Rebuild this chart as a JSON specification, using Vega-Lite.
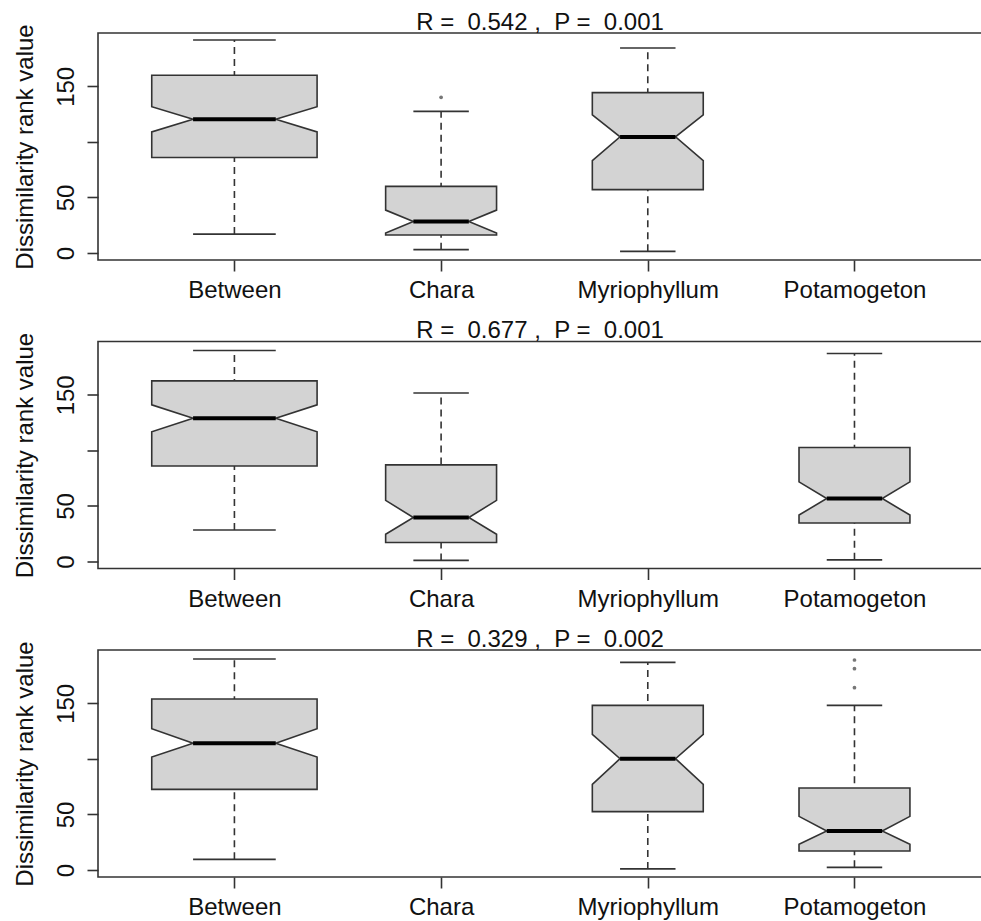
{
  "$schema": "https://vega.github.io/schema/vega-lite/v6.json",
  "padding": {"left": 12, "top": 10, "right": 0, "bottom": 0},
  "background": "white",
  "bounds": "flush",
  "spacing": 81.5,
  "data": {
    "values": [
      {"panel": 1, "group": "Between", "n": 100, "lo": 17, "q1": 86, "nlo": 109, "med": 120.3, "nhi": 131.7, "q3": 160, "hi": 191.7},
      {"panel": 1, "group": "Chara", "n": 45, "lo": 3, "q1": 16.2, "nlo": 18, "med": 28.3, "nhi": 38.6, "q3": 60, "hi": 127.5},
      {"panel": 1, "group": "Myriophyllum", "n": 45, "lo": 1.5, "q1": 57, "nlo": 83.2, "med": 104.5, "nhi": 124.3, "q3": 144.3, "hi": 184.5},
      {"panel": 1, "group": "Chara", "out": 140.1},
      {"panel": 2, "group": "Between", "n": 100, "lo": 28.3, "q1": 85.9, "nlo": 116.8, "med": 128.9, "nhi": 141, "q3": 162.6, "hi": 189.9},
      {"panel": 2, "group": "Chara", "n": 45, "lo": 1, "q1": 17.1, "nlo": 24.5, "med": 39.6, "nhi": 55, "q3": 87, "hi": 151.6},
      {"panel": 2, "group": "Potamogeton", "n": 45, "lo": 1.5, "q1": 34.6, "nlo": 41.8, "med": 56.7, "nhi": 71.7, "q3": 102.6, "hi": 187.2},
      {"panel": 3, "group": "Between", "n": 100, "lo": 9.6, "q1": 72.6, "nlo": 101.7, "med": 114, "nhi": 127.2, "q3": 153.9, "hi": 189.9},
      {"panel": 3, "group": "Myriophyllum", "n": 45, "lo": 1, "q1": 52.5, "nlo": 77.1, "med": 100.2, "nhi": 122.1, "q3": 148.2, "hi": 186.9},
      {"panel": 3, "group": "Potamogeton", "n": 45, "lo": 2.4, "q1": 17.1, "nlo": 23.1, "med": 35.1, "nhi": 48.3, "q3": 73.8, "hi": 148.2},
      {"panel": 3, "group": "Potamogeton", "out": 164.1},
      {"panel": 3, "group": "Potamogeton", "out": 181.2},
      {"panel": 3, "group": "Potamogeton", "out": 189}
    ]
  },
  "transform": [
    {"calculate": "indexof(['Between','Chara','Myriophyllum','Potamogeton'], datum.group) + 1", "as": "pos"},
    {"calculate": "0.4 * sqrt(datum.n / 100)", "as": "hw"},
    {"calculate": "datum.pos - datum.hw / 2", "as": "xl2"},
    {"calculate": "datum.pos + datum.hw / 2", "as": "xr2"}
  ],
  "vconcat": [
    {
      "title": {"text": "R = \u00a00.542 , \u00a0P = \u00a00.001"},
      "width": 884, "height": 227,
      "transform": [{"filter": "datum.panel == 1"}],
      "layer": [
        {"transform": [{"filter": "isValid(datum.med)"}],
         "mark": {"type": "rule", "strokeDash": [7, 5], "color": "#333", "strokeWidth": 1.6},
         "encoding": {
           "x": {"field": "pos", "type": "quantitative", "title": null, "scale": {"domain": [0.34, 4.617], "nice": false, "zero": false}, "axis": {"values": [1, 2, 3, 4], "labelExpr": "['','Between','Chara','Myriophyllum','Potamogeton'][datum.value]"}},
           "y": {"field": "lo", "type": "quantitative", "title": "Dissimilarity rank value", "scale": {"domain": [-6.3, 198], "nice": false, "zero": false}, "axis": {"values": [0, 50, 100, 150], "labelExpr": "datum.value == 100 ? '' : datum.label"}},
           "y2": {"field": "hi"}}},
        {"transform": [{"filter": "isValid(datum.med)"}, {"fold": ["q1", "nlo", "med", "nhi", "q3"], "as": ["part", "val"]}, {"calculate": "datum.part == 'med' ? datum.hw / 2 : datum.hw", "as": "w"}, {"calculate": "datum.pos - datum.w", "as": "xl"}, {"calculate": "datum.pos + datum.w", "as": "xr"}],
         "mark": {"type": "area", "orient": "horizontal", "fill": "#d3d3d3", "stroke": "#333", "strokeWidth": 1.6, "interpolate": "linear"},
         "encoding": {
           "y": {"field": "val", "type": "quantitative", "title": "Dissimilarity rank value", "scale": {"domain": [-6.3, 198], "nice": false, "zero": false}, "axis": {"values": [0, 50, 100, 150], "labelExpr": "datum.value == 100 ? '' : datum.label"}},
           "x": {"field": "xl", "type": "quantitative", "title": null, "scale": {"domain": [0.34, 4.617], "nice": false, "zero": false}, "axis": {"values": [1, 2, 3, 4], "labelExpr": "['','Between','Chara','Myriophyllum','Potamogeton'][datum.value]"}},
           "x2": {"field": "xr"},
           "detail": {"field": "group"}}},
        {"transform": [{"filter": "isValid(datum.med)"}],
         "mark": {"type": "rule", "color": "#000", "strokeWidth": 4},
         "encoding": {
           "x": {"field": "xl2", "type": "quantitative", "title": null, "scale": {"domain": [0.34, 4.617], "nice": false, "zero": false}, "axis": {"values": [1, 2, 3, 4], "labelExpr": "['','Between','Chara','Myriophyllum','Potamogeton'][datum.value]"}},
           "x2": {"field": "xr2"},
           "y": {"field": "med", "type": "quantitative", "title": "Dissimilarity rank value", "scale": {"domain": [-6.3, 198], "nice": false, "zero": false}, "axis": {"values": [0, 50, 100, 150], "labelExpr": "datum.value == 100 ? '' : datum.label"}}}},
        {"transform": [{"filter": "isValid(datum.med)"}, {"fold": ["lo", "hi"], "as": ["cap", "cv"]}],
         "mark": {"type": "rule", "color": "#333", "strokeWidth": 1.6},
         "encoding": {
           "x": {"field": "xl2", "type": "quantitative", "title": null, "scale": {"domain": [0.34, 4.617], "nice": false, "zero": false}, "axis": {"values": [1, 2, 3, 4], "labelExpr": "['','Between','Chara','Myriophyllum','Potamogeton'][datum.value]"}},
           "x2": {"field": "xr2"},
           "y": {"field": "cv", "type": "quantitative", "title": "Dissimilarity rank value", "scale": {"domain": [-6.3, 198], "nice": false, "zero": false}, "axis": {"values": [0, 50, 100, 150], "labelExpr": "datum.value == 100 ? '' : datum.label"}}}},
        {"transform": [{"filter": "isValid(datum.out)"}],
         "mark": {"type": "point", "filled": true, "shape": "circle", "size": 14, "color": "#777", "opacity": 1},
         "encoding": {
           "x": {"field": "pos", "type": "quantitative", "title": null, "scale": {"domain": [0.34, 4.617], "nice": false, "zero": false}, "axis": {"values": [1, 2, 3, 4], "labelExpr": "['','Between','Chara','Myriophyllum','Potamogeton'][datum.value]"}},
           "y": {"field": "out", "type": "quantitative", "title": "Dissimilarity rank value", "scale": {"domain": [-6.3, 198], "nice": false, "zero": false}, "axis": {"values": [0, 50, 100, 150], "labelExpr": "datum.value == 100 ? '' : datum.label"}}}}
      ]
    },
    {
      "title": {"text": "R = \u00a00.677 , \u00a0P = \u00a00.001"},
      "width": 884, "height": 227,
      "transform": [{"filter": "datum.panel == 2"}],
      "layer": [
        {"transform": [{"filter": "isValid(datum.med)"}],
         "mark": {"type": "rule", "strokeDash": [7, 5], "color": "#333", "strokeWidth": 1.6},
         "encoding": {
           "x": {"field": "pos", "type": "quantitative", "title": null, "scale": {"domain": [0.34, 4.617], "nice": false, "zero": false}, "axis": {"values": [1, 2, 3, 4], "labelExpr": "['','Between','Chara','Myriophyllum','Potamogeton'][datum.value]"}},
           "y": {"field": "lo", "type": "quantitative", "title": "Dissimilarity rank value", "scale": {"domain": [-6.3, 198], "nice": false, "zero": false}, "axis": {"values": [0, 50, 100, 150], "labelExpr": "datum.value == 100 ? '' : datum.label"}},
           "y2": {"field": "hi"}}},
        {"transform": [{"filter": "isValid(datum.med)"}, {"fold": ["q1", "nlo", "med", "nhi", "q3"], "as": ["part", "val"]}, {"calculate": "datum.part == 'med' ? datum.hw / 2 : datum.hw", "as": "w"}, {"calculate": "datum.pos - datum.w", "as": "xl"}, {"calculate": "datum.pos + datum.w", "as": "xr"}],
         "mark": {"type": "area", "orient": "horizontal", "fill": "#d3d3d3", "stroke": "#333", "strokeWidth": 1.6, "interpolate": "linear"},
         "encoding": {
           "y": {"field": "val", "type": "quantitative", "title": "Dissimilarity rank value", "scale": {"domain": [-6.3, 198], "nice": false, "zero": false}, "axis": {"values": [0, 50, 100, 150], "labelExpr": "datum.value == 100 ? '' : datum.label"}},
           "x": {"field": "xl", "type": "quantitative", "title": null, "scale": {"domain": [0.34, 4.617], "nice": false, "zero": false}, "axis": {"values": [1, 2, 3, 4], "labelExpr": "['','Between','Chara','Myriophyllum','Potamogeton'][datum.value]"}},
           "x2": {"field": "xr"},
           "detail": {"field": "group"}}},
        {"transform": [{"filter": "isValid(datum.med)"}],
         "mark": {"type": "rule", "color": "#000", "strokeWidth": 4},
         "encoding": {
           "x": {"field": "xl2", "type": "quantitative", "title": null, "scale": {"domain": [0.34, 4.617], "nice": false, "zero": false}, "axis": {"values": [1, 2, 3, 4], "labelExpr": "['','Between','Chara','Myriophyllum','Potamogeton'][datum.value]"}},
           "x2": {"field": "xr2"},
           "y": {"field": "med", "type": "quantitative", "title": "Dissimilarity rank value", "scale": {"domain": [-6.3, 198], "nice": false, "zero": false}, "axis": {"values": [0, 50, 100, 150], "labelExpr": "datum.value == 100 ? '' : datum.label"}}}},
        {"transform": [{"filter": "isValid(datum.med)"}, {"fold": ["lo", "hi"], "as": ["cap", "cv"]}],
         "mark": {"type": "rule", "color": "#333", "strokeWidth": 1.6},
         "encoding": {
           "x": {"field": "xl2", "type": "quantitative", "title": null, "scale": {"domain": [0.34, 4.617], "nice": false, "zero": false}, "axis": {"values": [1, 2, 3, 4], "labelExpr": "['','Between','Chara','Myriophyllum','Potamogeton'][datum.value]"}},
           "x2": {"field": "xr2"},
           "y": {"field": "cv", "type": "quantitative", "title": "Dissimilarity rank value", "scale": {"domain": [-6.3, 198], "nice": false, "zero": false}, "axis": {"values": [0, 50, 100, 150], "labelExpr": "datum.value == 100 ? '' : datum.label"}}}}
      ]
    },
    {
      "title": {"text": "R = \u00a00.329 , \u00a0P = \u00a00.002"},
      "width": 884, "height": 227,
      "transform": [{"filter": "datum.panel == 3"}],
      "layer": [
        {"transform": [{"filter": "isValid(datum.med)"}],
         "mark": {"type": "rule", "strokeDash": [7, 5], "color": "#333", "strokeWidth": 1.6},
         "encoding": {
           "x": {"field": "pos", "type": "quantitative", "title": null, "scale": {"domain": [0.34, 4.617], "nice": false, "zero": false}, "axis": {"values": [1, 2, 3, 4], "labelExpr": "['','Between','Chara','Myriophyllum','Potamogeton'][datum.value]"}},
           "y": {"field": "lo", "type": "quantitative", "title": "Dissimilarity rank value", "scale": {"domain": [-6.3, 198], "nice": false, "zero": false}, "axis": {"values": [0, 50, 100, 150], "labelExpr": "datum.value == 100 ? '' : datum.label"}},
           "y2": {"field": "hi"}}},
        {"transform": [{"filter": "isValid(datum.med)"}, {"fold": ["q1", "nlo", "med", "nhi", "q3"], "as": ["part", "val"]}, {"calculate": "datum.part == 'med' ? datum.hw / 2 : datum.hw", "as": "w"}, {"calculate": "datum.pos - datum.w", "as": "xl"}, {"calculate": "datum.pos + datum.w", "as": "xr"}],
         "mark": {"type": "area", "orient": "horizontal", "fill": "#d3d3d3", "stroke": "#333", "strokeWidth": 1.6, "interpolate": "linear"},
         "encoding": {
           "y": {"field": "val", "type": "quantitative", "title": "Dissimilarity rank value", "scale": {"domain": [-6.3, 198], "nice": false, "zero": false}, "axis": {"values": [0, 50, 100, 150], "labelExpr": "datum.value == 100 ? '' : datum.label"}},
           "x": {"field": "xl", "type": "quantitative", "title": null, "scale": {"domain": [0.34, 4.617], "nice": false, "zero": false}, "axis": {"values": [1, 2, 3, 4], "labelExpr": "['','Between','Chara','Myriophyllum','Potamogeton'][datum.value]"}},
           "x2": {"field": "xr"},
           "detail": {"field": "group"}}},
        {"transform": [{"filter": "isValid(datum.med)"}],
         "mark": {"type": "rule", "color": "#000", "strokeWidth": 4},
         "encoding": {
           "x": {"field": "xl2", "type": "quantitative", "title": null, "scale": {"domain": [0.34, 4.617], "nice": false, "zero": false}, "axis": {"values": [1, 2, 3, 4], "labelExpr": "['','Between','Chara','Myriophyllum','Potamogeton'][datum.value]"}},
           "x2": {"field": "xr2"},
           "y": {"field": "med", "type": "quantitative", "title": "Dissimilarity rank value", "scale": {"domain": [-6.3, 198], "nice": false, "zero": false}, "axis": {"values": [0, 50, 100, 150], "labelExpr": "datum.value == 100 ? '' : datum.label"}}}},
        {"transform": [{"filter": "isValid(datum.med)"}, {"fold": ["lo", "hi"], "as": ["cap", "cv"]}],
         "mark": {"type": "rule", "color": "#333", "strokeWidth": 1.6},
         "encoding": {
           "x": {"field": "xl2", "type": "quantitative", "title": null, "scale": {"domain": [0.34, 4.617], "nice": false, "zero": false}, "axis": {"values": [1, 2, 3, 4], "labelExpr": "['','Between','Chara','Myriophyllum','Potamogeton'][datum.value]"}},
           "x2": {"field": "xr2"},
           "y": {"field": "cv", "type": "quantitative", "title": "Dissimilarity rank value", "scale": {"domain": [-6.3, 198], "nice": false, "zero": false}, "axis": {"values": [0, 50, 100, 150], "labelExpr": "datum.value == 100 ? '' : datum.label"}}}},
        {"transform": [{"filter": "isValid(datum.out)"}],
         "mark": {"type": "point", "filled": true, "shape": "circle", "size": 14, "color": "#777", "opacity": 1},
         "encoding": {
           "x": {"field": "pos", "type": "quantitative", "title": null, "scale": {"domain": [0.34, 4.617], "nice": false, "zero": false}, "axis": {"values": [1, 2, 3, 4], "labelExpr": "['','Between','Chara','Myriophyllum','Potamogeton'][datum.value]"}},
           "y": {"field": "out", "type": "quantitative", "title": "Dissimilarity rank value", "scale": {"domain": [-6.3, 198], "nice": false, "zero": false}, "axis": {"values": [0, 50, 100, 150], "labelExpr": "datum.value == 100 ? '' : datum.label"}}}}
      ]
    }
  ],
  "config": {
    "view": {"stroke": "#333", "strokeWidth": 1.6},
    "axis": {"grid": false, "domain": false, "tickColor": "#333", "tickWidth": 1.6, "tickSize": 11, "labelFont": "Liberation Sans", "labelFontSize": 24, "labelColor": "#111", "titleFont": "Liberation Sans", "titleFontSize": 24, "titleFontWeight": "normal", "titleColor": "#111", "labelOverlap": false},
    "axisX": {"labelPadding": 26.5, "labelAngle": 0, "labelBaseline": "alphabetic", "labelAlign": "center"},
    "axisY": {"labelAngle": -90, "labelAlign": "center", "labelBaseline": "alphabetic", "labelPadding": 14, "titleAngle": -90, "titleBaseline": "alphabetic", "titleAlign": "center", "titleX": -66, "titleY": 113.5},
    "title": {"font": "Liberation Sans", "fontSize": 24, "fontWeight": "normal", "color": "#111", "offset": -11, "baseline": "alphabetic", "frame": "group", "anchor": "middle"}
  }
}
